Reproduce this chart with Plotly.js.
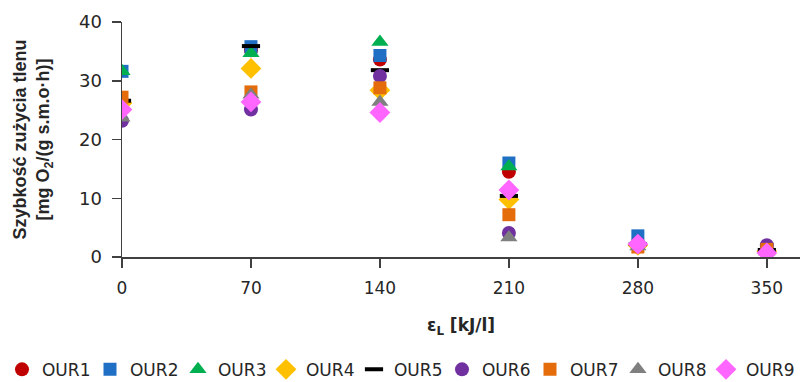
<!DOCTYPE html>
<html><head><meta charset="utf-8">
<script src="https://cdn.plot.ly/plotly-3.0.1.min.js"></script>
<style>html,body{margin:0;padding:0;background:#fff}#chart{width:810px;height:382px}</style>
</head><body><div id="chart"></div>
<script>
const energy = [0, 70, 140, 210, 280, 350];
const names = ["OUR1","OUR2","OUR3","OUR4","OUR5","OUR6","OUR7","OUR8","OUR9"];
const OUR1 = [26.0, 35.2, 33.6, 14.5, 2.3, 1.3];
const OUR2 = [31.6, 35.8, 34.3, 16.0, 3.6, 1.2];
const OUR3 = [31.6, 34.7, 36.6, 15.4, 2.5, 1.1];
const OUR4 = [26.2, 32.1, 28.4, 9.8, 2.0, 1.0];
const OUR5 = [26.6, 35.9, 31.8, 10.4, 2.2, 1.2];
const OUR6 = [23.2, 25.1, 30.8, 4.1, 2.4, 2.0];
const OUR7 = [27.2, 28.1, 28.8, 7.2, 1.7, 1.3];
const OUR8 = [23.7, 27.6, 26.4, 3.3, 1.8, 0.9];
const OUR9 = [25.1, 26.4, 24.6, 11.4, 2.2, 0.7];
const series = [OUR1, OUR2, OUR3, OUR4, OUR5, OUR6, OUR7, OUR8, OUR9];
const colors = ["#C00000","#1F6FC5","#00B050","#FFC000","#000000","#7030A0","#E46C0A","#7F7F7F","#FF66FF"];
const symbols = ["circle","square","triangle-up","diamond","line-ew-open","circle","square","triangle-up","diamond"];
const sizes = [14, 13, 15, 16, 13, 14, 13, 15, 16];

const traces = series.map((vals, i) => ({
  type: "scatter", mode: "markers", name: names[i],
  x: energy, y: vals,
  marker: {
    symbol: symbols[i], size: sizes[i], color: colors[i],
    line: symbols[i] === "line-ew-open" ? {width: 4, color: colors[i]} : {width: 0}
  }
}));

const fam = "'DejaVu Sans', sans-serif";
const txt = "#262626";
const layout = {
  width: 810, height: 382,
  margin: {l: 122, r: 10, t: 22, b: 125, autoexpand: false},
  paper_bgcolor: "#fff", plot_bgcolor: "#fff",
  font: {family: fam, color: txt},
  showlegend: true,
  xaxis: {
    range: [0, 368], tickvals: energy, ticktext: energy.map(String),
    showgrid: false, zeroline: false, showline: true, linecolor: "#404040", linewidth: 1.5,
    ticks: "outside", ticklen: 9, tickcolor: "#404040", tickwidth: 1.5,
    ticklabelstandoff: 6,
    tickfont: {size: 17, family: fam, color: txt},
    title: {text: "<b>ε<sub>L</sub> [kJ/l]</b>", font: {size: 17, family: fam, color: txt}, standoff: 22}
  },
  yaxis: {
    range: [0, 40], tickvals: [0, 10, 20, 30, 40],
    showgrid: false, zeroline: false, showline: true, linecolor: "#404040", linewidth: 1.5,
    ticks: "outside", ticklen: 9, tickcolor: "#404040", tickwidth: 1.5,
    ticklabelstandoff: 6,
    tickfont: {size: 18, family: fam, color: txt},
    title: {text: "<b>Szybkość zużycia tlenu<br>[mg O<sub>2</sub>/(g s.m.o·h)]</b>", font: {size: 18, family: "'Liberation Sans', Arial, sans-serif", color: txt}, standoff: 24}
  },
  legend: {
    orientation: "h", xref: "paper", x: -0.177, xanchor: "left",
    yref: "paper", y: -0.48, yanchor: "middle",
    font: {size: 17, family: fam, color: txt},
    itemwidth: 30, entrywidth: 43, tracegroupgap: 0
  }
};
Plotly.newPlot("chart", traces, layout, {displayModeBar: false, staticPlot: true});
</script></body></html>
